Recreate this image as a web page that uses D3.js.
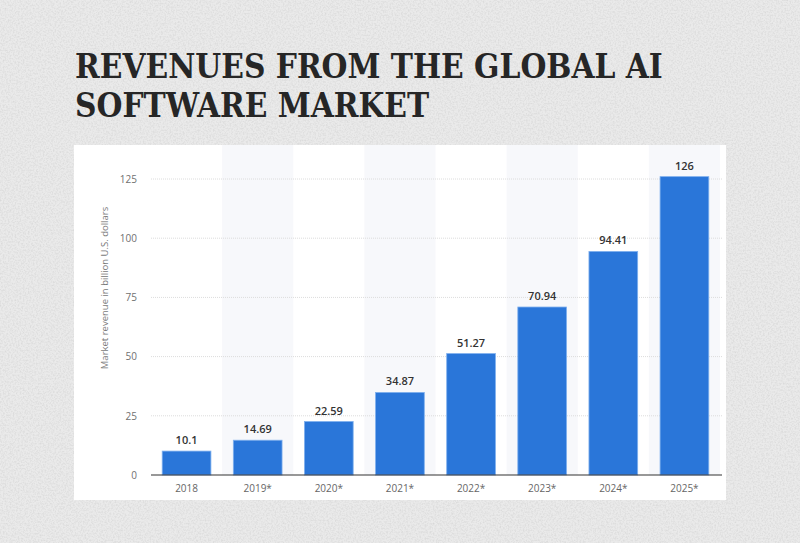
<!DOCTYPE html>
<html>
<head>
<meta charset="utf-8">
<script src="https://cdn.jsdelivr.net/npm/d3@7"></script>
<style>
  html, body { margin: 0; padding: 0; background: #e9e9e9; }
  svg { display: block; }
</style>
</head>
<body>
<div class="canvas"></div>
<script>
var width = 800,
    height = 543;

// data
var years = ["2018", "2019*", "2020*", "2021*", "2022*", "2023*", "2024*", "2025*"];
var revenue = [10.1, 14.69, 22.59, 34.87, 51.27, 70.94, 94.41, 126];
var yTicks = [0, 25, 50, 75, 100, 125];
var titleLines = ["REVENUES FROM THE GLOBAL AI", "SOFTWARE MARKET"];

var svg = d3.select(".canvas").append("svg")
    .attr("width", width)
    .attr("height", height);

// paper texture
var defs = svg.append("defs");
var filt = defs.append("filter").attr("id", "paper")
    .attr("x", 0).attr("y", 0).attr("width", "100%").attr("height", "100%");
filt.append("feTurbulence")
    .attr("type", "fractalNoise")
    .attr("baseFrequency", 0.6)
    .attr("numOctaves", 3)
    .attr("seed", 3);
filt.append("feColorMatrix")
    .attr("type", "matrix")
    .attr("values", "0 0 0 0 0  0 0 0 0 0  0 0 0 0 0  0 0 0 -0.8 0.5");

svg.append("rect")
    .attr("width", width).attr("height", height)
    .attr("fill", "#eaeaea");
svg.append("rect")
    .attr("width", width).attr("height", height)
    .attr("filter", "url(#paper)")
    .attr("opacity", 0.16);

// title
var title = svg.append("g").attr("class", "title");
title.selectAll("text")
    .data(titleLines)
    .join("text")
    .attr("x", 75)
    .attr("y", function(d, i) { return 78 + i * 39; })
    .attr("font-family", "'DejaVu Serif Condensed', 'DejaVu Serif', serif")
    .attr("font-weight", "bold")
    .attr("font-size", 34)
    .attr("fill", "#262626")
    .text(function(d) { return d; });

// fit first line to about 588px wide
var w0 = title.select("text").node().getComputedTextLength();
if (w0 > 0) {
    var fs = 34 * 588 / w0;
    title.selectAll("text").attr("font-size", fs);
}

// chart panel
var panel = { x: 74, y: 145, w: 652, h: 355 };
svg.append("rect")
    .attr("x", panel.x).attr("y", panel.y)
    .attr("width", panel.w).attr("height", panel.h)
    .attr("fill", "#ffffff");

var x = d3.scaleBand()
    .domain(years)
    .range([151, 720])
    .paddingInner(0.315)
    .paddingOuter(0.1575);

var y = d3.scaleLinear()
    .domain([0, 125])
    .range([475, 179]);

var g = svg.append("g");

// alternating column shading
var step = x.step();
g.selectAll("rect.shade")
    .data(years.filter(function(d, i) { return i % 2 == 1; }))
    .join("rect")
    .attr("class", "shade")
    .attr("x", function(d) { return x(d) - x.paddingInner() * step / 2; })
    .attr("y", panel.y)
    .attr("width", step)
    .attr("height", y(0) - panel.y)
    .attr("fill", "#f7f8fb");

// gridlines
g.selectAll("line.grid")
    .data(yTicks.filter(function(d) { return d > 0; }))
    .join("line")
    .attr("class", "grid")
    .attr("x1", 151).attr("x2", 722)
    .attr("y1", function(d) { return y(d); })
    .attr("y2", function(d) { return y(d); })
    .attr("stroke", "#dcdcdc")
    .attr("stroke-width", 1)
    .attr("stroke-dasharray", "1,1");

// y axis labels
var yAxis = d3.axisLeft(y).tickValues(yTicks).tickSize(0).tickPadding(0);
var ya = g.append("g")
    .attr("transform", "translate(137,0)")
    .call(yAxis);
ya.select(".domain").remove();
ya.selectAll("text")
    .attr("font-family", "'Open Sans', sans-serif")
    .attr("font-size", 10)
    .attr("fill", "#707070");

// y axis title
g.append("text")
    .attr("transform", "translate(108,288) rotate(-90)")
    .attr("text-anchor", "middle")
    .attr("font-family", "'Open Sans', sans-serif")
    .attr("font-size", 9.5)
    .attr("fill", "#7a7a7a")
    .text("Market revenue in billion U.S. dollars");

// bars
g.selectAll("rect.bar")
    .data(revenue)
    .join("rect")
    .attr("class", "bar")
    .attr("x", function(d, i) { return x(years[i]); })
    .attr("y", function(d) { return y(d); })
    .attr("width", x.bandwidth())
    .attr("height", function(d) { return y(0) - y(d); })
    .attr("fill", "#2a76d9")
    .attr("stroke", "#7fb0ee")
    .attr("stroke-width", 0.8);

// value labels
g.selectAll("text.value")
    .data(revenue)
    .join("text")
    .attr("class", "value")
    .attr("x", function(d, i) { return x(years[i]) + x.bandwidth() / 2; })
    .attr("y", function(d) { return y(d) - 7; })
    .attr("text-anchor", "middle")
    .attr("font-family", "'Open Sans', sans-serif")
    .attr("font-weight", 600)
    .attr("font-size", 11)
    .attr("fill", "#333")
    .text(function(d) { return d; });

// x axis
var xAxis = d3.axisBottom(x).tickSize(0).tickPadding(10);
var xa = g.append("g")
    .attr("transform", "translate(0," + y(0) + ")")
    .call(xAxis);
xa.select(".domain").remove();
xa.selectAll("text")
    .attr("font-family", "'Open Sans', sans-serif")
    .attr("font-size", 10)
    .attr("fill", "#666");

g.append("line")
    .attr("x1", 151).attr("x2", 722)
    .attr("y1", y(0)).attr("y2", y(0))
    .attr("stroke", "#333")
    .attr("stroke-width", 1.2);
</script>
</body>
</html>
